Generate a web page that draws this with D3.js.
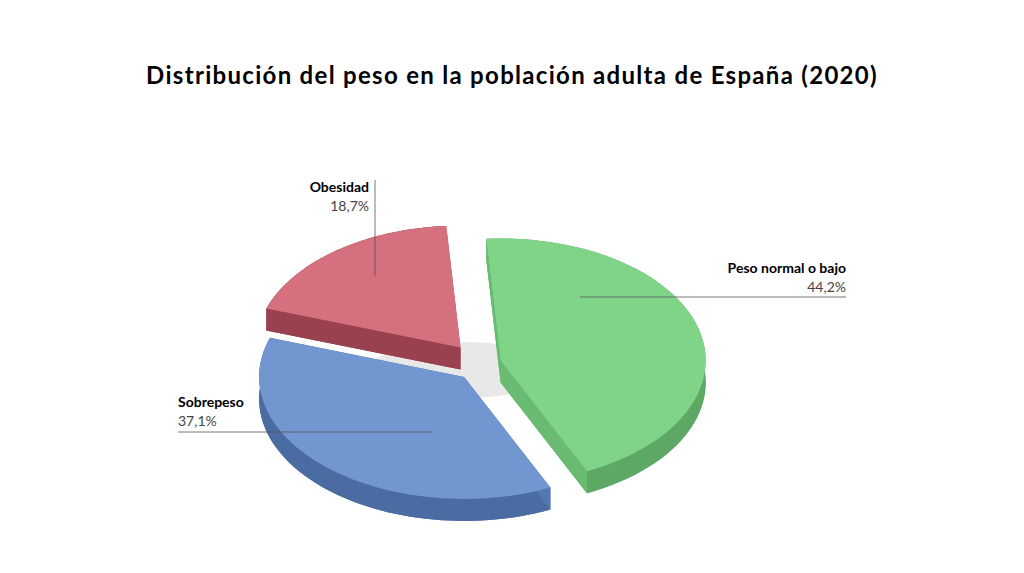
<!DOCTYPE html><html><head><meta charset="utf-8">
<script src="https://cdn.jsdelivr.net/npm/d3@7"></script>
<style>body{margin:0;background:#fff}text{font-family:Lato,"Open Sans",sans-serif}</style></head><body>
<svg id="c" width="1024" height="573"></svg>
<script>
const categories=["Peso normal o bajo","Sobrepeso","Obesidad"];
const values=[44.2,37.1,18.7];
const labels=["44,2%","37,1%","18,7%"];
const topColors=["#80d488","#7296d0","#d5707e"];
const sideColors=["#5ea866","#4b6ca2","#8a3a47"];
const svg=d3.select("#c");
svg.append("text").attr("x",512).attr("y",84).attr("text-anchor","middle")
 .attr("font-size",24).attr("font-weight",700).attr("letter-spacing",1.3).text("Distribución del peso en la población adulta de España (2020)");
const cx=478,cy=365,rx=205,ry=122,depth=22;
const startA=-94*Math.PI/180;
const ang=d3.scaleLinear().domain([0,d3.sum(values)]).range([startA,startA+2*Math.PI]);
const explode=[18,16,22];
let acc=0;
const slices=values.map((v,i)=>{const a0=ang(acc);acc+=v;const a1=ang(acc);return{i,a0,a1}});
svg.append("ellipse").attr("cx",cx-15).attr("cy",cy+5).attr("rx",95).attr("ry",28).attr("fill","#e8e8e8");
const order=[2,0,1];
order.forEach(i=>{
 const s=slices[i],m=(s.a0+s.a1)/2;
 const ox=explode[i]*Math.cos(m)*1.3,oy=explode[i]*Math.sin(m);
 const P=(a,r,dy)=>[cx+ox+r*rx*Math.cos(a),cy+oy+r*ry*Math.sin(a)+dy];
 const arcPts=dy=>d3.range(0,61).map(k=>P(s.a0+(s.a1-s.a0)*k/60,1,dy));
 const face=dy=>[P(0,0,dy),...arcPts(dy)];
 const g=svg.append("g");
 const line=d3.line();
 g.append("path").attr("d",line(face(depth))+"Z").attr("fill",sideColors[i]);
 const top=arcPts(0),bot=arcPts(depth);
 g.append("path").attr("d",line([...top,...bot.slice().reverse()])+"Z").attr("fill",sideColors[i]);
 [s.a0,s.a1].forEach(a=>g.append("path").attr("d",line([P(0,0,0),P(a,1,0),P(a,1,depth),P(0,0,depth)])+"Z").attr("fill",d3.color(sideColors[i]).brighter(0.3)));
 g.append("path").attr("d",line(face(0))+"Z").attr("fill",topColors[i]);
});
const L=[{x:846,y:273,anchor:"end",line:[[580,297],[846,297]]},
 {x:178,y:407,anchor:"start",line:[[178,432],[432,432]]},
 {x:369,y:192,anchor:"end",line:[[375,180],[375,276]]}];
L.forEach((l,i)=>{
 svg.append("path").attr("d",d3.line()(l.line)).attr("stroke","#555").attr("stroke-width",0.8);
 svg.append("text").attr("x",l.x).attr("y",l.y).attr("text-anchor",l.anchor).attr("font-size",14).attr("font-weight",700).text(categories[i]);
 svg.append("text").attr("x",l.x).attr("y",l.y+19).attr("text-anchor",l.anchor).attr("font-size",14).attr("fill","#444").text(labels[i]);
});
</script></body></html>
